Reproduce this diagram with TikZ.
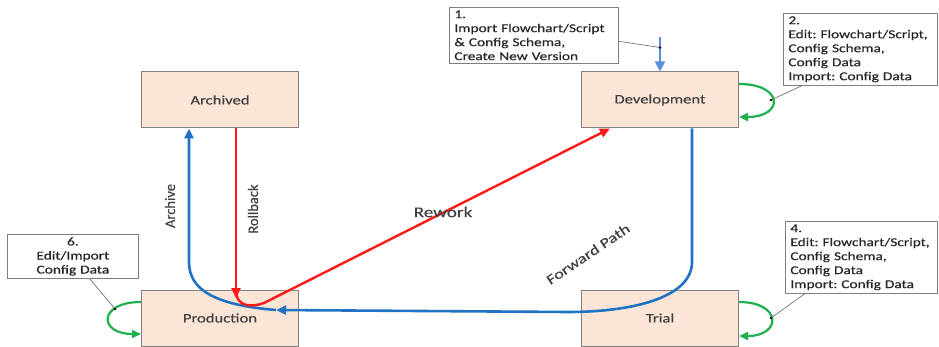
\documentclass[tikz,border=0pt]{standalone}
\usepackage{fontspec}
\setmainfont[FakeStretch=1.28,FakeBold=0.3]{Carlito}
\newfontfamily\uprightlabel[FakeBold=0.3]{Carlito}
\usetikzlibrary{arrows.meta}
\frenchspacing
\definecolor{boxfill}{HTML}{FBE5D6}
\definecolor{boxline}{HTML}{7F7F7F}
\definecolor{boxtext}{HTML}{404040}
\definecolor{flowblue}{HTML}{1F72C4}
\definecolor{importblue}{HTML}{5B8FDB}
\definecolor{flowred}{HTML}{FF1A1A}
\definecolor{loopgreen}{HTML}{1DB04C}

\begin{document}
\begin{tikzpicture}[x=1pt,y=-1pt,
  state/.style={draw=boxline,fill=boxfill,line width=1pt,minimum width=157pt,minimum height=56pt,
    font=\fontsize{13}{15}\selectfont,text=boxtext},
  note/.style={draw=boxline,fill=white,line width=0.8pt,anchor=north west,align=left,
    inner xsep=5pt,inner ysep=3pt,font=\fontsize{12}{14}\selectfont,text=black!85},
  lbl/.style={font=\fontsize{15}{17}\selectfont,text=boxtext},
  vlbl/.style={font=\uprightlabel\fontsize{14.5}{16}\selectfont,text=boxtext,rotate=90},
  blueflow/.style={draw=flowblue,line width=2.6pt,-{Triangle[length=10pt,width=9pt]}},
  redflow/.style={draw=flowred,line width=2.4pt,-{Triangle[length=10pt,width=9pt]}},
  loop/.style={draw=loopgreen,line width=2.2pt,-{Triangle[length=9pt,width=8pt]}},
  leader/.style={draw=black!55,line width=0.7pt},
  pin/.style={fill=black,radius=1.3pt}]
\useasboundingbox (0,0) rectangle (939,347);

\node[state] (arch) at (220,100) {Archived};
\node[state] (dev) at (660,100) {Development};
\node[state] (prod) at (220,318) {Production};
\node[state] (trial) at (660,318) {Trial};

\node[note,text width=159pt] (note1) at (449,7) {1.\\Import Flowchart/Script\\\& Config Schema,\\Create New Version};
\node[note,text width=144pt] (note2) at (783,13) {2.\\Edit: Flowchart/Script,\\Config Schema,\\Config Data\\Import: Config Data};
\node[note,text width=142pt] (note4) at (785,221) {4.\\Edit: Flowchart/Script,\\Config Schema,\\Config Data\\Import: Config Data};
\node[note,text width=121pt,align=center] (note6) at (7,234) {6.\\Edit/Import\\Config Data};

% import into development
\coordinate (imp) at (660,37);
\draw[draw=importblue,line width=2pt,-{Triangle[length=10pt,width=10pt]}] (imp) -- (dev.north);
\draw[leader] ([yshift=-6pt]note1.east) -- ([yshift=24pt]dev.north);
\fill[pin] ([yshift=24pt]dev.north) circle;

% forward path and archive
\coordinate (fwdend) at (276,310);
\draw[blueflow] ([xshift=32pt]dev.south) -- (692,262) .. controls (692,295) and (640,312) .. (567,312) -- (fwdend);
\draw[blueflow] (fwdend) .. controls (215,305) and (189,290) .. (189,262) -- ([xshift=-31pt]arch.south);

% rollback and rework
\coordinate (rwstart) at (236,292);
\draw[redflow] ([xshift=16pt]arch.south) -- (236,298);
\draw[redflow] (rwstart) .. controls (237,306) and (250,308) .. (264,303) -- ([xshift=-50pt]dev.south);

% edit loops
\draw[loop] ([yshift=16pt]dev.east) .. controls ([xshift=45pt,yshift=16pt]dev.east) and ([xshift=45pt,yshift=-17pt]dev.east) .. ([yshift=-17pt]dev.east);
\draw[loop] ([yshift=16pt]trial.east) .. controls ([xshift=43pt,yshift=16pt]trial.east) and ([xshift=43pt,yshift=-18pt]trial.east) .. ([yshift=-18pt]trial.east);
\draw[loop] ([yshift=16pt]prod.west) .. controls ([xshift=-43pt,yshift=16pt]prod.west) and ([xshift=-43pt,yshift=-16pt]prod.west) .. ([yshift=-16pt]prod.west);

\coordinate (dot6) at (115,309);
\draw[leader] ([xshift=19pt]note2.south west) -- ([xshift=32pt]dev.east);
\fill[pin] ([xshift=32pt]dev.east) circle;
\draw[leader] ([xshift=20pt]note4.south west) -- ([xshift=32pt]trial.east);
\fill[pin] ([xshift=32pt]trial.east) circle;
\draw[leader] ([xshift=83pt]note6.south west) -- (dot6);
\fill[pin] (dot6) circle;

\node[vlbl] (archlbl) at (170,206) {Archive};
\node[vlbl] (rolllbl) at (253,209) {Rollback};
\node[lbl] (reworklbl) at (443,212) {Rework};
\node[lbl,font=\fontsize{14}{16}\selectfont,rotate=34] (fwdlbl) at (588,254) {Forward Path};
\end{tikzpicture}
\end{document}
